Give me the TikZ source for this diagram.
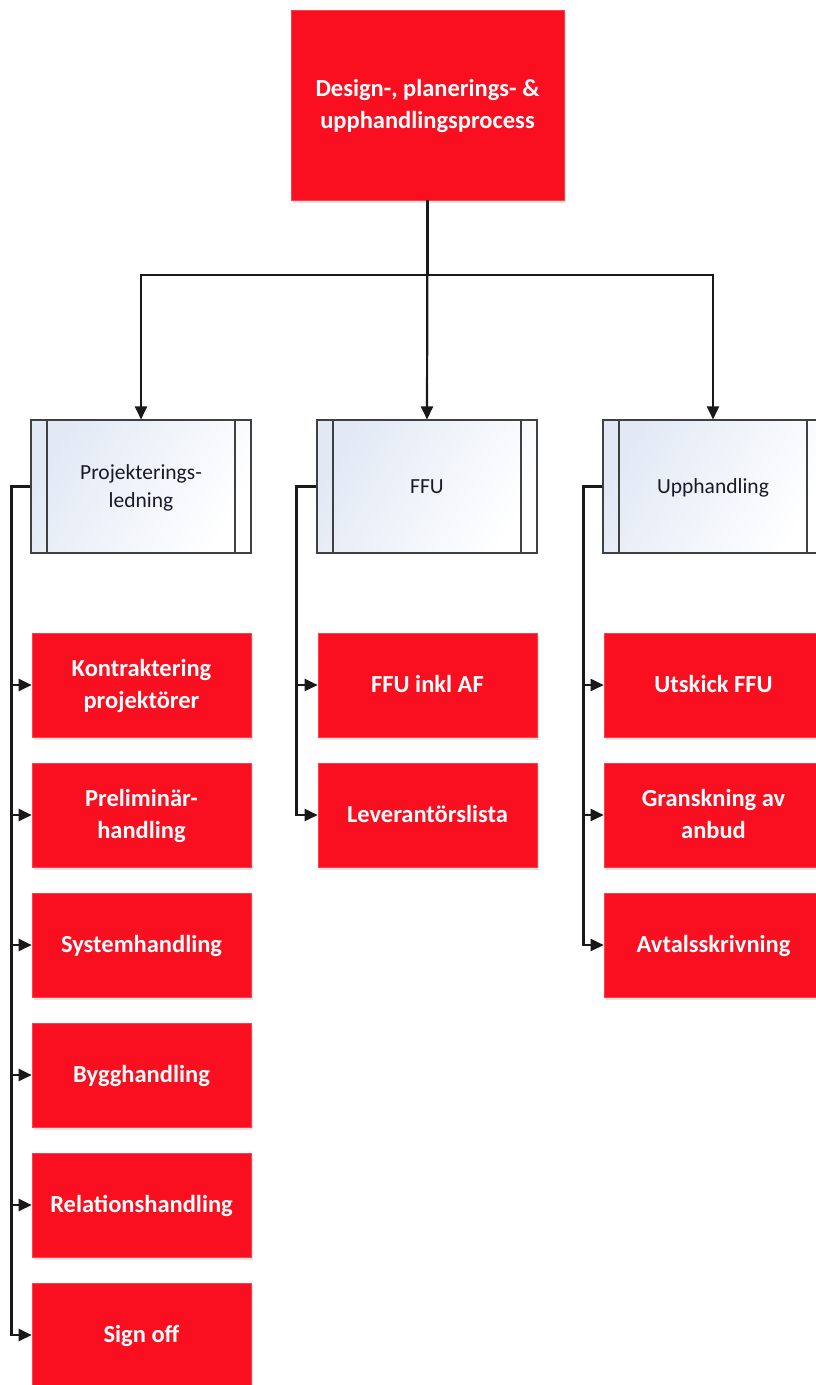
\documentclass[tikz,border=0pt]{standalone}
\usepackage{fontspec}
\setmainfont{Carlito}
\usetikzlibrary{arrows.meta,shadows}
\definecolor{boxred}{RGB}{250,15,32}
\definecolor{hdrblue}{RGB}{226,233,245}
\definecolor{hdrtext}{RGB}{25,25,40}
\newcommand{\rs}{\rule[-7.6pt]{0pt}{30.9pt}}
\newcommand{\hs}{\rule[-6.5pt]{0pt}{27.3pt}}
\tikzset{
  redbox/.style={draw=boxred!80!white, line width=0.6pt, fill=boxred, text=white,
    minimum width=219pt, minimum height=104pt, inner sep=2pt, align=center,
    font=\fontsize{24.5}{30}\selectfont\bfseries,
    drop shadow={opacity=0.22, shadow xshift=1.5pt, shadow yshift=-3pt}},
  topbox/.style={redbox, minimum width=273pt, minimum height=190pt},
  hdrbox/.style={draw=black!75, line width=1.1pt, left color=hdrblue, right color=white,
    shading angle=60, text=hdrtext,
    minimum width=220pt, minimum height=133pt, inner sep=2pt, align=center,
    font=\fontsize{21.5}{25}\selectfont,
    path picture={
      \draw[black!75, line width=1.1pt] ([xshift=16pt]path picture bounding box.north west) -- ([xshift=16pt]path picture bounding box.south west);
      \draw[black!75, line width=1.1pt] ([xshift=-16pt]path picture bounding box.north east) -- ([xshift=-16pt]path picture bounding box.south east);
    }},
  conn/.style={draw=black!90, line width=2.2pt, -{Triangle[length=13pt,width=12pt]}}
}
\begin{document}
\begin{tikzpicture}[x=1pt,y=-1pt]
\clip (0,0) rectangle (816,1385);
\fill[white] (0,0) rectangle (816,1385);
% top
\node[topbox] (top) at (427.5,105) {\rs Design-, planerings- \&\\\rs upphandlingsprocess};
% headers
\node[hdrbox] (h1) at (141,486.5) {\hs Projekterings-\\\hs ledning};
\node[hdrbox] (h2) at (427,486.5) {\hs FFU};
\node[hdrbox] (h3) at (713,486.5) {\hs Upphandling};
% left column
\node[redbox] (a1) at (141.5,685) {\rs Kontraktering\\\rs projektörer};
\node[redbox] (a2) at (141.5,815) {\rs Preliminär-\\\rs handling};
\node[redbox] (a3) at (141.5,945) {\rs Systemhandling};
\node[redbox] (a4) at (141.5,1075) {\rs Bygghandling};
\node[redbox] (a5) at (141.5,1205) {\rs Relationshandling};
\node[redbox] (a6) at (141.5,1335) {\rs Sign off};
% middle column
\node[redbox] (b1) at (427.5,685) {\rs FFU inkl AF};
\node[redbox] (b2) at (427.5,815) {\rs Leverantörslista};
% right column
\node[redbox] (c1) at (713.5,685) {\rs Utskick FFU};
\node[redbox] (c2) at (713.5,815) {\rs Granskning av\\\rs anbud};
\node[redbox] (c3) at (713.5,945) {\rs Avtalsskrivning};
% top connectors
\coordinate (bus) at (427.5,275);
\draw[conn] (top.south) -- (bus) -| (h1.north);
\draw[conn] (top.south) -- (h2.north);
\draw[conn] (bus) -| (h3.north);
% branches
\foreach \n in {a1,a2,a3,a4,a5,a6}{
  \draw[conn] (h1.west) -- ++(-19,0) |- (\n.west);
}
\foreach \n in {b1,b2}{
  \draw[conn] (h2.west) -- ++(-20,0) |- (\n.west);
}
\foreach \n in {c1,c2,c3}{
  \draw[conn] (h3.west) -- ++(-19,0) |- (\n.west);
}
\end{tikzpicture}
\end{document}
